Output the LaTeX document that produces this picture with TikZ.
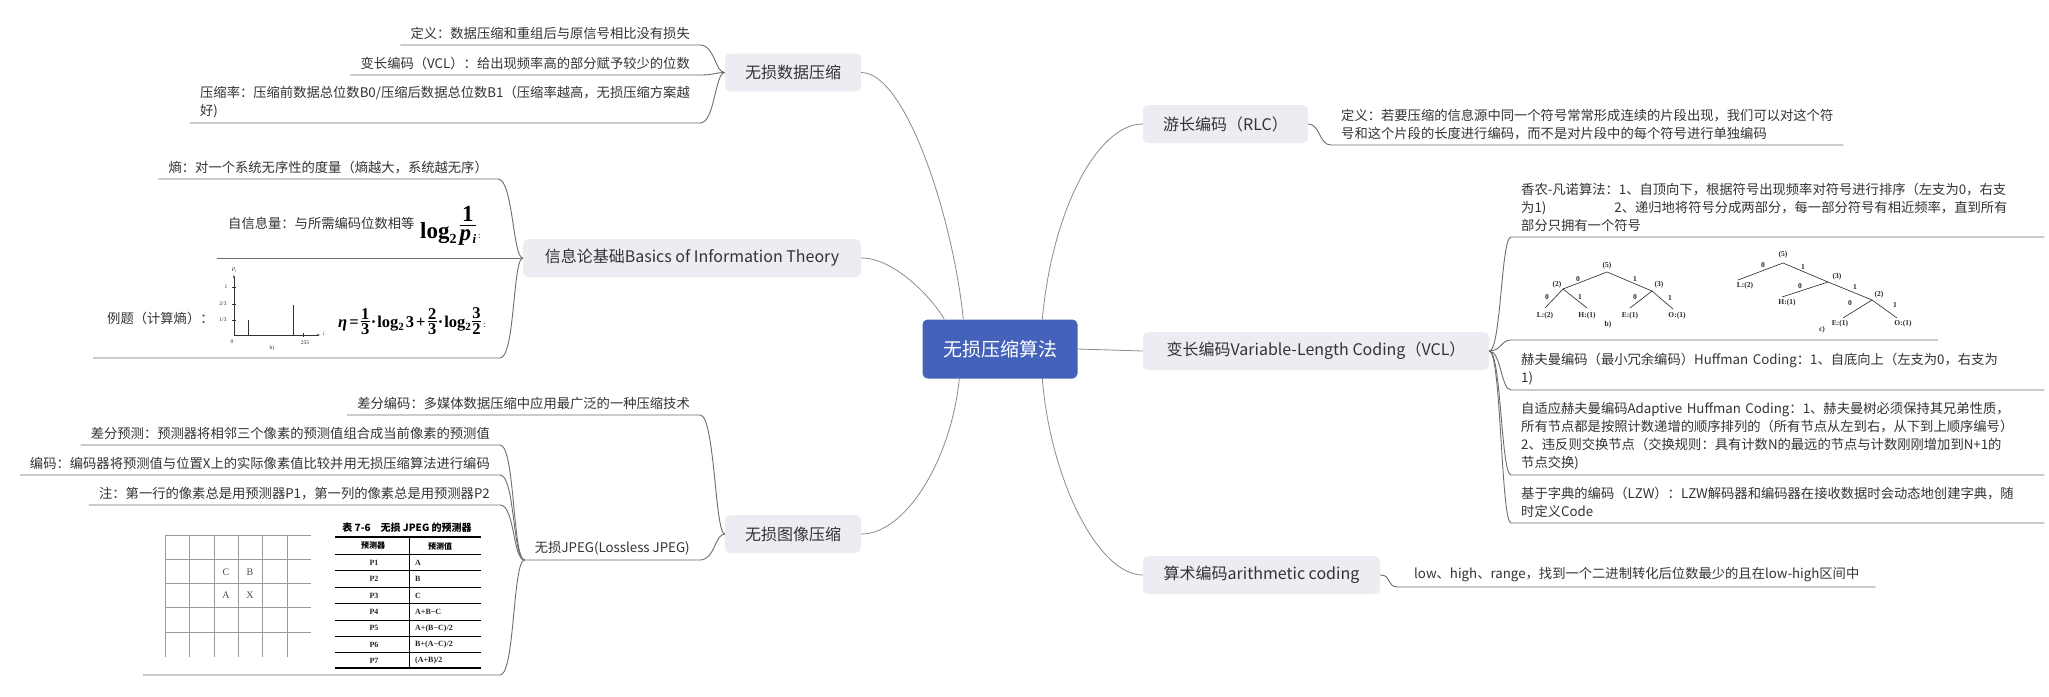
\documentclass[tikz,border=0pt]{standalone}
\usepackage{fontspec}
\setmainfont{Noto Sans CJK SC}
\newfontfamily\tms{Liberation Serif}
\usetikzlibrary{positioning,arrows.meta}

\definecolor{rootblue}{HTML}{4462BA}
\definecolor{boxgray}{HTML}{ECEDF3}
\definecolor{inkgray}{HTML}{333333}
\definecolor{wiregray}{HTML}{6E6E6E}
\definecolor{scangray}{HTML}{9A9A9A}

% stacked fraction in text mode: [gap]{lower}{numerator}{denominator}
\newcommand{\barfrac}[4][2pt]{\lower#2\vbox{\offinterlineskip\halign{\hfil##\hfil\cr\kern0.5pt#3\kern0.5pt\cr\noalign{\kern#1\hrule height0.7pt\kern#1}#4\cr}}}
\newcommand{\subtwo}{\raisebox{-3pt}{\fontsize{11}{11}\selectfont 2}}

\tikzset{
  rootbox/.style={fill=rootblue, rounded corners=5pt, text=white,
    font=\fontsize{19}{22}\selectfont, minimum width=155pt, minimum height=59pt},
  mainbox/.style={fill=boxgray, rounded corners=5pt, text=inkgray,
    font=\fontsize{16}{19}\selectfont, minimum height=38pt},
  leaf/.style={text=inkgray, font=\fontsize{13.3}{18}\selectfont, align=left,
    inner xsep=10pt, inner ysep=5pt},
  wire/.style={draw=wiregray, line width=0.9pt},
  rootwire/.style={draw=wiregray!80, line width=0.8pt},
  scan/.style={font=\tms\bfseries\fontsize{7.5}{8}\selectfont, inner sep=0pt, text=black!85},
  hlabel/.style={font=\tms\fontsize{5.5}{6}\selectfont, inner sep=0pt, text=black!85},
}

\begin{document}
\begin{tikzpicture}[x=1pt,y=-1pt]
\useasboundingbox (0,0) rectangle (2049,696);
\fill[white] (0,0) rectangle (2049,696);

% centre and main branches
\node[rootbox] (root) at (1000,349) {无损压缩算法};
\node[mainbox, minimum width=136pt] (lossless) at (793,72.5) {无损数据压缩};
\node[mainbox, minimum width=338pt] (info) at (692,258) {信息论基础Basics of Information Theory};
\node[mainbox, minimum width=136pt] (image) at (793,534) {无损图像压缩};
\node[mainbox, minimum width=165pt] (rlc) at (1225.5,124) {游长编码（RLC）};
\node[mainbox, minimum width=346pt] (vlc) at (1316,351) {变长编码Variable-Length Coding（VCL）};
\node[mainbox, minimum width=237pt] (arith) at (1261.5,575) {算术编码arithmetic coding};

\draw[rootwire] ([xshift=41pt]root.north west) .. controls +(-10,-100) and +(45,0) .. (lossless.east);
\draw[rootwire] ([xshift=22pt]root.north west) .. controls +(-10,-18) and +(35,0) .. (info.east);
\draw[rootwire] ([xshift=120pt]root.north west) .. controls +(10,-110) and +(-45,0) .. (rlc.west);
\draw[rootwire] (root.east) -- (vlc.west);
\draw[rootwire] ([xshift=37pt]root.south west) .. controls +(-8,80) and +(45,0) .. (image.east);
\draw[rootwire] ([xshift=120pt]root.south west) .. controls +(8,100) and +(-45,0) .. (arith.west);

% lossless data compression
\node[leaf, anchor=south east] (defn) at (700,45) {定义：数据压缩和重组后与原信号相比没有损失};
\node[leaf, anchor=south east] (vclnote) at (700,75) {变长编码（VCL）：给出现频率高的部分赋予较少的位数};
\node[leaf, anchor=south east] (ratio) at (700,123) {压缩率：压缩前数据总位数B0/压缩后数据总位数B1（压缩率越高，无损压缩方案越\\好)};
\foreach \n in {defn,vclnote,ratio}
  \draw[wire] (\n.south west) -- (\n.south east) .. controls +(15,0) and +(-10,0) .. (lossless.west);

% information theory
\node[leaf, anchor=south east] (entropy) at (498,179) {熵：对一个系统无序性的度量（熵越大，系统越无序）};
\node[leaf, anchor=west] (selfinfo) at (218,223) {自信息量：与所需编码位数相等};
\node[inner sep=0pt, anchor=base west, font=\tms\bfseries\fontsize{23}{26}\selectfont] (selfeq) at (420,238)
  {log\raisebox{-5pt}{\fontsize{14}{14}\selectfont 2}\kern3pt\barfrac[4pt]{2.7pt}{1}{\textit{p}\kern1.5pt\raisebox{-2.5pt}{\fontsize{13}{13}\selectfont\textit{i}}}\kern2pt{\fontsize{9}{9}\selectfont\mdseries :}};
\coordinate (siL) at (217,258);
\draw[wire] (entropy.south west) -- (entropy.south east) .. controls +(15,0) and +(-10,0) .. (info.west);
\draw[wire] (siL) -- (info.west);

\node[leaf, anchor=west] (example) at (97,318) {例题（计算熵）：};
\begin{scope}[black!80, line width=0.5pt]
  \draw[-{Stealth[length=3pt,width=2pt]}] (234,335) -- (234,275);
  \draw[-{Stealth[length=3pt,width=2pt]}] (234,335) -- (320,335);
  \foreach \ty in {287,304,320} \draw (232,\ty) -- (236,\ty);
  \draw (303,333) -- (303,337);
  \draw (248,335) -- (248,320);
  \draw (293,335) -- (293,305);
\end{scope}
\node[hlabel] (hpi) at (234,270) {\textit{P}\raisebox{-1pt}{\fontsize{4}{4}\selectfont\textit{i}}};
\node[hlabel] (hone) at (226,287) {1};
\node[hlabel] (htwo) at (223,304) {2/3};
\node[hlabel] (hthird) at (223,320) {1/3};
\node[hlabel] (hzero) at (232,342) {0};
\node[hlabel] (hmax) at (305,343) {255};
\node[hlabel] (hi) at (324,334) {\textit{i}};
\node[hlabel] (hcap) at (272,348) {b)};
\node[inner sep=0pt, anchor=base west, font=\tms\bfseries\fontsize{16.5}{19}\selectfont] (etaeq) at (338,327)
  {\textit{η}\kern2pt=\kern2pt\barfrac{7.7pt}{1}{3}\kern1pt·\kern1pt log\subtwo\kern2pt 3\kern2pt+\kern2pt\barfrac{7.7pt}{2}{3}\kern1pt·\kern1pt log\subtwo\kern1pt\barfrac{7.7pt}{3}{2}\kern2pt{\fontsize{9}{9}\selectfont\mdseries :}};
\coordinate (exL) at (93,358);
\coordinate (exR) at (500,358);
\draw[wire] (exL) -- (exR) .. controls +(15,0) and +(-10,0) .. (info.west);

% lossless image compression
\node[leaf, anchor=south east] (diffcode) at (700,415) {差分编码：多媒体数据压缩中应用最广泛的一种压缩技术};
\node[leaf, anchor=south east, minimum width=175pt] (ljpeg) at (700,560) {无损JPEG(Lossless JPEG)};
\foreach \n in {diffcode,ljpeg}
  \draw[wire] (\n.south west) -- (\n.south east) .. controls +(15,0) and +(-10,0) .. (image.west);

\node[leaf, anchor=south east] (diffpred) at (500,445) {差分预测：预测器将相邻三个像素的预测值组合成当前像素的预测值};
\node[leaf, anchor=south east] (coder) at (500,475) {编码：编码器将预测值与位置X上的实际像素值比较并用无损压缩算法进行编码};
\node[leaf, anchor=south east] (firstrow) at (500,505) {注：第一行的像素总是用预测器P1，第一列的像素总是用预测器P2};
\coordinate (figL) at (143,675);
\coordinate (figR) at (500,675);
\foreach \n in {diffpred,coder,firstrow}
  \draw[wire] (\n.south west) -- (\n.south east) .. controls +(15,0) and +(-12,0) .. (ljpeg.south west);
\draw[wire] (figL) -- (figR) .. controls +(15,0) and +(-12,0) .. (ljpeg.south west);

% pixel grid
\begin{scope}[scangray, line width=0.6pt]
  \foreach \gx in {165,189.5,214,238,262,287} \draw (\gx,535) -- (\gx,657);
  \foreach \gy in {535,559.5,583.5,607.5,632} \draw (165,\gy) -- (311,\gy);
\end{scope}
\foreach \lt/\lx/\ly in {C/226/572,B/250/572,A/226/595,X/250/595}
  \node[font=\tms\fontsize{10}{10}\selectfont, text=black!70, inner sep=0pt] (cell\lt) at (\lx,\ly) {\lt};

% predictor table
\node[font=\bfseries\fontsize{10}{12}\selectfont, inner sep=0pt] (tabtitle) at (407,528) {表 7-6\quad 无损 JPEG 的预测器};
\draw[line width=1.1pt] (335,537) -- (481,537);
\draw[line width=0.8pt] (335,554) -- (481,554);
\foreach \ry in {570.5,587,603.5,620,636,652.5} \draw[line width=0.5pt] (335,\ry) -- (481,\ry);
\draw[line width=1.1pt] (335,668) -- (481,668);
\draw[line width=0.6pt] (409,537) -- (409,668);
\node[font=\bfseries\fontsize{8}{9}\selectfont, inner sep=0pt] (thead) at (373,546) {预测器};
\node[font=\bfseries\fontsize{8}{9}\selectfont, inner sep=0pt] (tval) at (440,546) {预测值};
\foreach \pv [count=\rowk] in {A,B,C,{A+B−C},{A+(B−C)/2},{B+(A−C)/2},{(A+B)/2}} {
  \node[scan, font=\tms\bfseries\fontsize{8}{9}\selectfont] (pk\rowk) at (374,{563+16.3*(\rowk-1)}) {P\rowk};
  \node[scan, font=\tms\bfseries\fontsize{8}{9}\selectfont, anchor=west] (pv\rowk) at (415,{563+16.3*(\rowk-1)}) {\pv};
}

% run-length coding
\node[leaf, anchor=south west, text width=492pt] (rlcdef) at (1331,145) {定义：若要压缩的信息源中同一个符号常常形成连续的片段出现，我们可以对这个符\\号和这个片段的长度进行编码，而不是对片段中的每个符号进行单独编码};
\draw[wire] (rlc.east) .. controls +(12,0) and +(-12,0) .. (rlcdef.south west) -- (rlcdef.south east);

% variable-length coding
\node[leaf, anchor=south west, text width=513pt] (shannon) at (1511,237) {香农-凡诺算法：1、自顶向下，根据符号出现频率对符号进行排序（左支为0，右支\\为1)\hspace{68pt}2、递归地将符号分成两部分，每一部分符号有相近频率，直到所有\\部分只拥有一个符号};
\node[leaf, anchor=south west, text width=513pt] (huffman) at (1511,390) {赫夫曼编码（最小冗余编码）Huffman Coding：1、自底向上（左支为0，右支为\\1)};
\node[leaf, anchor=south west, text width=513pt] (adaptive) at (1511,475) {自适应赫夫曼编码Adaptive Huffman Coding：1、赫夫曼树必须保持其兄弟性质，\\所有节点都是按照计数递增的顺序排列的（所有节点从左到右，从下到上顺序编号）\\2、违反则交换节点（交换规则：具有计数N的最远的节点与计数刚刚增加到N+1的\\节点交换)};
\node[leaf, anchor=south west, text width=513pt] (lzw) at (1511,523) {基于字典的编码（LZW）：LZW解码器和编码器在接收数据时会动态地创建字典，随\\时定义Code};
\coordinate (treeL) at (1511,340);
\coordinate (treeR) at (1938,340);
\foreach \n in {shannon,huffman,adaptive,lzw}
  \draw[wire] (vlc.east) .. controls +(12,0) and +(-10,0) .. (\n.south west) -- (\n.south east);
\draw[wire] (vlc.east) .. controls +(12,0) and +(-10,0) .. (treeL) -- (treeR);

% coding trees b) and c)
\begin{scope}[black!85, line width=0.6pt]
  \coordinate (b5) at (1607,272);
  \coordinate (b2) at (1563,289);
  \coordinate (b3) at (1652,291);
  \draw (b2) -- (b5) -- (b3);
  \draw (1545,308) -- (b2) -- (1587,308);
  \draw (1630,308) -- (b3) -- (1673,309);
  \coordinate (c5) at (1783,263);
  \coordinate (c3) at (1828,282);
  \coordinate (c2) at (1872,300);
  \draw (1738,280) -- (c5) -- (c3) -- (c2) -- (1897,318);
  \draw (c3) -- (1782,297);
  \draw (c2) -- (1843,318);
\end{scope}
\foreach \tx/\ty/\tlab [count=\kk] in {1607/266/(5),1557/285/(2),1659/285/(3),1545/316/L:(2),1587/316/H:(1),1630/316/E:(1),1677/316/O:(1),1578/279/0,1635/279/1,1547/297/0,1580/297/1,1635/297/0,1670/298/1,1608/325/b)}
  \node[scan] (tb\kk) at (\tx,\ty) {\tlab};
\foreach \tx/\ty/\tlab [count=\kk] in {1783/255/(5),1745/286/L:(2),1837/277/(3),1787/303/H:(1),1879/295/(2),1840/324/E:(1),1903/324/O:(1),1763/265/0,1803/267/1,1800/286/0,1855/287/1,1850/303/0,1895/305/1,1822/330/c)}
  \node[scan] (tc\kk) at (\tx,\ty) {\tlab};

% arithmetic coding
\node[leaf, anchor=south west, inner xsep=16pt] (arithdef) at (1398,587) {low、high、range，找到一个二进制转化后位数最少的且在low-high区间中};
\draw[wire] (arith.east) .. controls +(12,0) and +(-12,0) .. (arithdef.south west) -- (arithdef.south east);
\end{tikzpicture}
\end{document}
